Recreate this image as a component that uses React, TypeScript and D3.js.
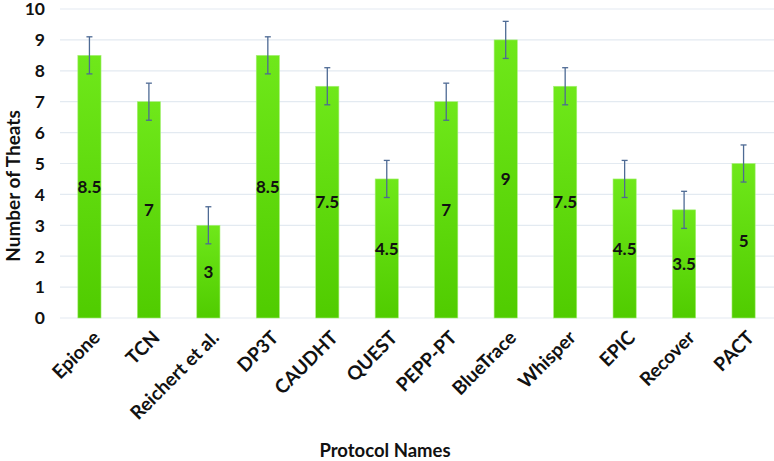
import React, { useEffect, useRef } from 'react';
import * as d3 from 'd3';

const protocols = ['Epione', 'TCN', 'Reichert et al.', 'DP3T', 'CAUDHT', 'QUEST', 'PEPP-PT', 'BlueTrace', 'Whisper', 'EPIC', 'Recover', 'PACT'];
const threats = [8.5, 7, 3, 8.5, 7.5, 4.5, 7, 9, 7.5, 4.5, 3.5, 5];
const errors = [0.6, 0.6, 0.6, 0.6, 0.6, 0.6, 0.6, 0.6, 0.6, 0.6, 0.6, 0.6];
const yTicks = [0, 1, 2, 3, 4, 5, 6, 7, 8, 9, 10];

const W = 774;
const H = 461;
const font = "Lato, 'Open Sans', sans-serif";

export default function App() {
    const ref = useRef<SVGSVGElement>(null);

    useEffect(() => {
        document.body.style.margin = '0';
        const svg = d3.select(ref.current);
        svg.selectAll('*').remove();

        const left = 60, right = 773, top = 9, bottom = 318;

        const x = d3.scaleBand().domain(protocols).range([left, right]).paddingInner(0.61).paddingOuter(0.3);
        const y = d3.scaleLinear().domain([0, 10]).range([bottom, top]);

        const grad = svg.append('defs').append('linearGradient')
            .attr('id', 'barGrad').attr('x1', 0).attr('y1', 0).attr('x2', 0).attr('y2', 1);
        grad.append('stop').attr('offset', '0%').attr('stop-color', '#6fe81a');
        grad.append('stop').attr('offset', '100%').attr('stop-color', '#50cc00');

        // grid lines
        svg.append('g').selectAll('line').data(yTicks).enter()
            .append('line')
            .attr('x1', left).attr('x2', W)
            .attr('y1', d => y(d)).attr('y2', d => y(d))
            .attr('stroke', '#e3eaf1').attr('stroke-width', 1.2);

        // y tick labels
        svg.append('g').selectAll('text').data(yTicks).enter()
            .append('text')
            .attr('x', 45).attr('y', d => y(d))
            .attr('dy', '0.36em')
            .attr('text-anchor', 'end')
            .attr('font-family', font).attr('font-weight', 700).attr('font-size', 17.5)
            .attr('fill', '#111')
            .text(d => d);

        // bars
        svg.append('g').selectAll('rect').data(threats).enter()
            .append('rect')
            .attr('x', (d, i) => x(protocols[i])!)
            .attr('y', d => y(d))
            .attr('width', x.bandwidth())
            .attr('height', d => bottom - y(d))
            .attr('fill', 'url(#barGrad)')
            .attr('stroke', '#a8f07a').attr('stroke-width', 0.6);

        // error bars
        const eg = svg.append('g').attr('stroke', '#4e6a94').attr('stroke-width', 1.3);
        threats.forEach((v, i) => {
            const cx = x(protocols[i])! + x.bandwidth() / 2;
            eg.append('line').attr('x1', cx).attr('x2', cx).attr('y1', y(v + errors[i])).attr('y2', y(v - errors[i]));
            eg.append('line').attr('x1', cx - 3).attr('x2', cx + 3).attr('y1', y(v + errors[i])).attr('y2', y(v + errors[i]));
            eg.append('line').attr('x1', cx - 3).attr('x2', cx + 3).attr('y1', y(v - errors[i])).attr('y2', y(v - errors[i]));
        });

        // value labels
        svg.append('g').selectAll('text').data(threats).enter()
            .append('text')
            .attr('x', (d, i) => x(protocols[i])! + x.bandwidth() / 2)
            .attr('y', d => (y(d) + bottom) / 2)
            .attr('dy', '0.36em')
            .attr('text-anchor', 'middle')
            .attr('font-family', font).attr('font-weight', 700).attr('font-size', 17)
            .attr('fill', '#111')
            .text(d => d);

        // x labels
        svg.append('g').selectAll('text').data(protocols).enter()
            .append('text')
            .attr('transform', d => `translate(${x(d)! + x.bandwidth() / 2 + 7},${bottom + 16}) rotate(-45)`)
            .attr('text-anchor', 'end')
            .attr('dy', '0.36em')
            .attr('font-family', font).attr('font-weight', 700).attr('font-size', 19)
            .attr('fill', '#111')
            .text(d => d);

        // axis titles
        svg.append('text')
            .attr('transform', `translate(13,186) rotate(-90)`)
            .attr('text-anchor', 'middle').attr('dy', '0.36em')
            .attr('font-family', font).attr('font-weight', 700).attr('font-size', 19)
            .attr('fill', '#111')
            .text('Number of Theats');

        svg.append('text')
            .attr('x', 385).attr('y', 457)
            .attr('text-anchor', 'middle')
            .attr('font-family', font).attr('font-weight', 700).attr('font-size', 18.5)
            .attr('fill', '#111')
            .text('Protocol Names');
    }, []);

    return <svg ref={ref} width={W} height={H} style={{ display: 'block', background: '#fff' }} />;
}
